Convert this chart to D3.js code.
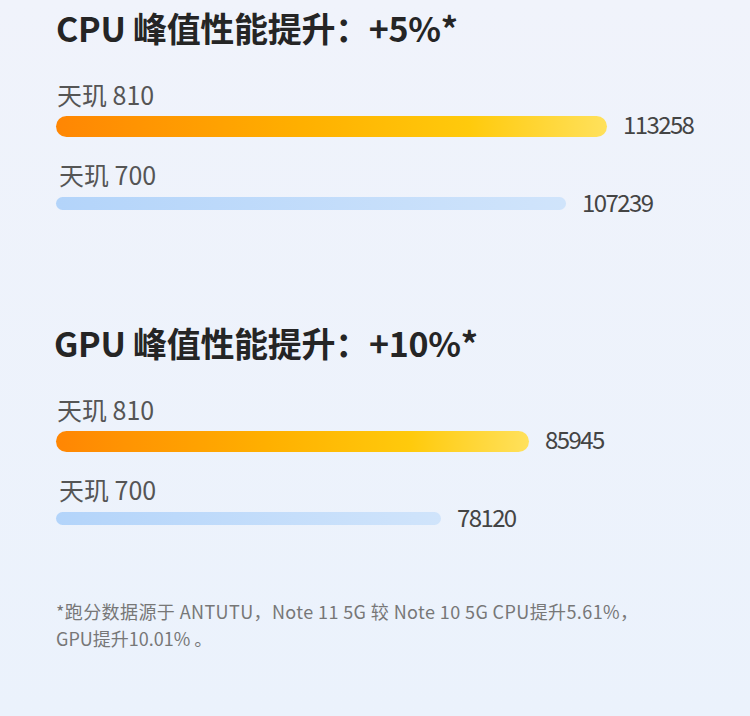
<!DOCTYPE html>
<html>
<head>
<meta charset="utf-8">
<script src="https://cdn.jsdelivr.net/npm/d3@7"></script>
<style>
  html, body { margin: 0; padding: 0; }
  body { width: 750px; height: 716px; overflow: hidden; }
  svg text { font-family: "Noto Sans CJK SC", "Noto Sans", sans-serif; }
</style>
</head>
<body>
<div id="chart"></div>
<script>
// chart data
const sections = ["CPU", "GPU"];
const titles = ["CPU 峰值性能提升：+5%*", "GPU 峰值性能提升：+10%*"];
const chips = ["天玑 810", "天玑 700"];
const cpuScores = [113258, 107239];
const gpuScores = [85945, 78120];
const footnote = [
  "*跑分数据源于 ANTUTU，Note 11 5G 较 Note 10 5G CPU提升5.61%，",
  "GPU提升10.01% 。"
];

const width = 750, height = 716;
const left = 56;

const svg = d3.select("#chart").append("svg")
  .attr("width", width)
  .attr("height", height);

const defs = svg.append("defs");

// page background
const bg = defs.append("linearGradient").attr("id", "bg")
  .attr("x1", 0).attr("y1", 0).attr("x2", 0).attr("y2", 1);
bg.append("stop").attr("offset", "0%").attr("stop-color", "#f0f3fb");
bg.append("stop").attr("offset", "100%").attr("stop-color", "#ebf2fc");
svg.append("rect").attr("width", width).attr("height", height).attr("fill", "url(#bg)");

// bar fills
const orange = defs.append("linearGradient").attr("id", "orange")
  .attr("x1", 0).attr("y1", 0).attr("x2", 1).attr("y2", 0);
[["0%", "#ff8603"], ["45%", "#ffb000"], ["75%", "#ffca0c"], ["100%", "#ffe15c"]]
  .forEach(s => orange.append("stop").attr("offset", s[0]).attr("stop-color", s[1]));

const blue = defs.append("linearGradient").attr("id", "blue")
  .attr("x1", 0).attr("y1", 0).attr("x2", 1).attr("y2", 0);
[["0%", "#b3d4fa"], ["100%", "#d0e4fb"]]
  .forEach(s => blue.append("stop").attr("offset", s[0]).attr("stop-color", s[1]));

// each block uses its own scale (the source graphic does not start at zero)
const blocks = [
  { title: titles[0], scores: cpuScores, top: 0,
    x: d3.scaleLinear().domain([32300, 113258]).range([0, 551]) },
  { title: titles[1], scores: gpuScores, top: 315,
    x: d3.scaleLinear().domain([43900, 85945]).range([0, 473]) }
];

const barH = [21, 13];
const barY = [116, 197];
const labelY = [105, 185];
const valueY = [134, 212];
const fills = ["url(#orange)", "url(#blue)"];

blocks.forEach((b, bi) => {
  const g = svg.append("g").attr("class", "block-" + sections[bi])
    .attr("transform", `translate(0,${b.top})`);

  g.append("text")
    .attr("x", bi === 0 ? 56 : 54)
    .attr("y", 42)
    .attr("font-size", 34)
    .attr("font-weight", "bold")
    .attr("letter-spacing", -0.3)
    .attr("fill", "#252525")
    .text(b.title);

  const rows = g.selectAll("g.row")
    .data(b.scores)
    .enter()
    .append("g")
    .attr("class", "row");

  rows.append("text")
    .attr("x", (d, i) => i === 0 ? 57 : 59)
    .attr("y", (d, i) => labelY[i])
    .attr("font-size", 25)
    .attr("fill", "#555")
    .text((d, i) => chips[i]);

  rows.append("rect")
    .attr("x", left)
    .attr("y", (d, i) => barY[i])
    .attr("height", (d, i) => barH[i])
    .attr("rx", (d, i) => barH[i] / 2)
    .attr("width", d => b.x(d))
    .attr("fill", (d, i) => fills[i]);

  rows.append("text")
    .attr("x", d => left + b.x(d) + 16)
    .attr("y", (d, i) => valueY[i])
    .attr("font-size", 24)
    .attr("letter-spacing", -1.6)
    .attr("fill", "#444")
    .text(d => d);
});

// footnote
svg.append("g").selectAll("text")
  .data(footnote)
  .enter()
  .append("text")
  .attr("x", 56)
  .attr("y", (d, i) => 619 + i * 27)
  .attr("font-size", 18)
  .attr("letter-spacing", (d, i) => i === 0 ? 0.4 : 0)
  .attr("fill", "#777")
  .text(d => d);
</script>
</body>
</html>
